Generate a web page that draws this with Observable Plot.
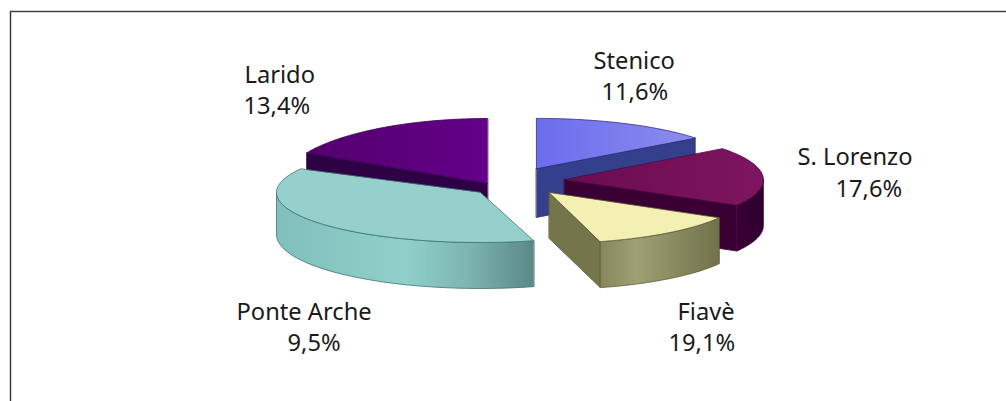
<!DOCTYPE html>
<html><head><meta charset="utf-8">
<script src="https://cdn.jsdelivr.net/npm/d3@7"></script>
<script src="https://cdn.jsdelivr.net/npm/@observablehq/plot@0.6"></script>
<style>
html,body{margin:0;padding:0;background:#fff}
svg{display:block}
g[aria-label="line"]{filter:blur(0.6px)}
</style></head><body>
<div id="chart"></div>
<script>
// Data
const towns = ["Stenico", "S. Lorenzo", "Fiavè", "Ponte Arche", "Larido"];
const printedValues = ["11,6%", "17,6%", "19,1%", "9,5%", "13,4%"];
// shares as drawn (they differ from the printed labels)
const drawnShares = [14.6, 18.7, 12.5, 37.0, 17.2];

// Layout / style options
const centre = [512, 180];
const layout = {
  "Stenico":     {explode: .27, rx: 200, ry: 50, depth: 49, top: "url(#gSten)", wall: "#34408c", arc: "#34408c", edge: "#2a2f80"},
  "S. Lorenzo":  {explode: .26, rx: 199, ry: 51, depth: 46, top: "url(#gLor)",  wall: "#3a0034", arc: "url(#gLorS)", edge: "#4a0840"},
  "Fiavè":       {explode: .30, rx: 196, ry: 51, depth: 46, top: "#f3f0b2",     wall: "#75754c", arc: "url(#gFia)", edge: "#5a5a38"},
  "Ponte Arche": {explode: .20, rx: 204, ry: 50, depth: 42, top: "#96d0cd",     wall: "#5f8f8d", arc: "url(#gPon)", edge: "#3f7472", tip: [480, 192]},
  "Larido":      {explode: .26, rx: 205, ry: 65, depth: 46, top: "url(#gLar)",  wall: "#2e0044", arc: "#2e0044", edge: "#3a0058", tip: [487, 183]}
};
const labelLayout = {
  "Stenico":     [[593, 68], [601, 99]],
  "S. Lorenzo":  [[797, 164], [835, 196]],
  "Fiavè":       [[677, 319], [668, 350]],
  "Ponte Arche": [[236, 319], [287, 350]],
  "Larido":      [[244, 82], [243, 113]]
};
const drawOrder = ["Larido", "Stenico", "S. Lorenzo", "Fiavè", "Ponte Arche"];

// Slice angles from the drawn shares, clockwise from twelve o'clock
const arcs = d3.pie().sort(null)(drawnShares);

function sliceFaces(name) {
  const a = arcs[towns.indexOf(name)], L = layout[name];
  const mid = (a.startAngle + a.endAngle) / 2;
  const tip = L.tip || [
    centre[0] + Math.sin(mid) * L.explode * 200,
    centre[1] - Math.cos(mid) * L.explode * 50
  ];
  const rim = t => [tip[0] + Math.sin(t) * L.rx, tip[1] - Math.cos(t) * L.ry];
  const rimDepth = t => L.depth - (name === "Ponte Arche" ? 4 * Math.cos(t) : 0);
  const down = (p, d) => [p[0], p[1] + d];
  const steps = t0 => t1 => d3.range(0, 61).map(i => t0 + (t1 - t0) * i / 60);
  const faces = [];
  // radial walls facing the viewer
  if (Math.sin(a.startAngle) < -1e-6) {
    const p = rim(a.startAngle), d = rimDepth(a.startAngle);
    faces.push({pts: [tip, p, down(p, d), down(tip, L.depth)], fill: L.wall, stroke: L.edge});
  }
  if (Math.sin(a.endAngle) > 1e-6) {
    const p = rim(a.endAngle), d = rimDepth(a.endAngle);
    faces.push({pts: [tip, p, down(p, d), down(tip, L.depth)], fill: L.wall, stroke: L.edge});
  }
  // outer wall: only the part of the rim that faces the viewer
  const t0 = Math.max(a.startAngle, Math.PI / 2), t1 = Math.min(a.endAngle, 3 * Math.PI / 2);
  if (t1 > t0) {
    const ts = steps(t0)(t1);
    faces.push({
      pts: [...ts.map(rim), ...ts.slice().reverse().map(t => down(rim(t), rimDepth(t)))],
      fill: L.arc, stroke: L.edge
    });
  }
  // top surface
  faces.push({pts: [tip, ...steps(a.startAngle)(a.endAngle).map(rim)], fill: L.top, stroke: L.edge});
  return faces;
}

const faceMarks = drawOrder.flatMap(name => sliceFaces(name).map(f =>
  Plot.line(f.pts, {x: d => d[0], y: d => d[1], fill: f.fill, stroke: f.stroke,
                    strokeWidth: 0.8, curve: "linear-closed"})
));

const labelRows = towns.flatMap((t, i) => [
  {text: t, x: labelLayout[t][0][0], y: labelLayout[t][0][1]},
  {text: printedValues[i], x: labelLayout[t][1][0], y: labelLayout[t][1][1]}
]);

function gradient(id, stops) {
  return `<linearGradient id="${id}" x1="0" x2="1" y1="0" y2="0">` +
    stops.map(([o, c]) => `<stop offset="${o}" stop-color="${c}"/>`).join("") + `</linearGradient>`;
}
const defsMark = () => {
  const g = document.createElementNS("http://www.w3.org/2000/svg", "defs");
  g.innerHTML =
    gradient("gSten", [[0, "#6c6cee"], [1, "#8c8cee"]]) +
    gradient("gLor", [[0, "#6a0c50"], [1, "#7e1560"]]) +
    gradient("gLorS", [[0, "#3a0034"], [1, "#2c0030"]]) +
    gradient("gLar", [[0, "#55006e"], [1, "#620088"]]) +
    gradient("gFia", [[0, "#86865a"], [.3, "#a0a076"], [1, "#72724a"]]) +
    gradient("gPon", [[0, "#7fc0bc"], [.5, "#8fd0cb"], [.75, "#7cb4b1"], [1, "#5b8886"]]);
  return g;
};

const chart = Plot.plot({
  width: 1006, height: 401,
  marginTop: 0, marginRight: 0, marginBottom: 0, marginLeft: 0,
  x: {domain: [0, 1006], range: [0, 1006], axis: null},
  y: {domain: [0, 401], range: [0, 401], axis: null},
  style: {background: "#fff"},
  marks: [
    defsMark,
    Plot.ruleY([11], {x1: 10, x2: 1006, stroke: "#444", strokeWidth: 1.4}),
    Plot.ruleX([10], {y1: 11, y2: 401, stroke: "#333", strokeWidth: 1.4}),
    ...faceMarks,
    Plot.text(labelRows, {
      x: "x", y: "y", text: "text", textAnchor: "start", lineAnchor: "bottom",
      fontFamily: "'Noto Sans','Open Sans',sans-serif", fontSize: 23.7, fill: "#1a1a1a"
    })
  ]
});
document.getElementById("chart").appendChild(chart);
</script>
</body></html>
